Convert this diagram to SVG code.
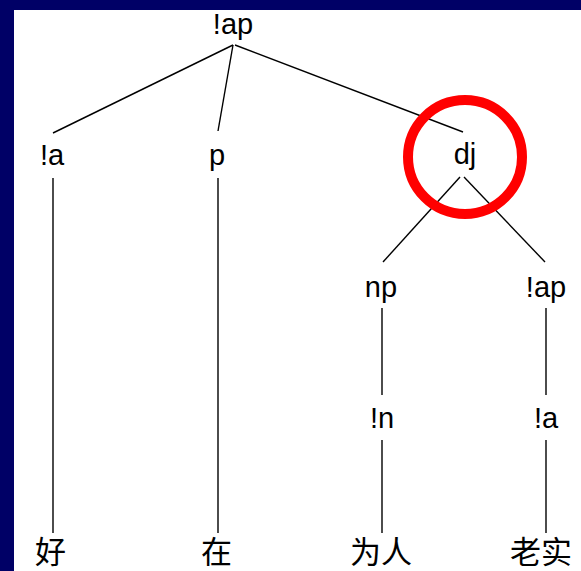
<svg xmlns="http://www.w3.org/2000/svg" width="581" height="571" viewBox="0 0 581 571">
<style>
.lbl{font-family:"Liberation Sans",Arial,sans-serif;font-size:29px;fill:#000;text-anchor:middle}
.word{font-family:"Noto Sans CJK SC",sans-serif;font-size:31px;fill:#000}
.edge{stroke:#000;stroke-width:1.4;fill:none}
</style>
<rect x="0" y="0" width="581" height="571" fill="#000066"/>
<rect x="14" y="10" width="567" height="561" fill="#ffffff"/>
<g id="connectors">
<line class="edge" x1="233" y1="45" x2="53" y2="133"/>
<line class="edge" x1="233" y1="45" x2="218" y2="131"/>
<line class="edge" x1="235" y1="45" x2="463" y2="132"/>
<line class="edge" x1="53" y1="178" x2="53" y2="533"/>
<line class="edge" x1="218" y1="178" x2="218" y2="533"/>
<line class="edge" x1="460" y1="177" x2="383" y2="262"/>
<line class="edge" x1="464" y1="177" x2="545" y2="262"/>
<line class="edge" x1="382" y1="308" x2="382" y2="395"/>
<line class="edge" x1="546" y1="308" x2="546" y2="395"/>
<line class="edge" x1="382" y1="440" x2="382" y2="533"/>
<line class="edge" x1="546" y1="440" x2="546" y2="533"/>
</g>
<g id="n-root"><text class="lbl" x="233" y="34">!ap</text></g>
<g id="n-a1"><text class="lbl" x="52" y="165">!a</text></g>
<g id="n-p"><text class="lbl" x="217" y="165">p</text></g>
<g id="n-dj"><text class="lbl" x="465" y="164">dj</text></g>
<g id="n-np"><text class="lbl" x="381" y="297">np</text></g>
<g id="n-ap2"><text class="lbl" x="546" y="297">!ap</text></g>
<g id="n-n"><text class="lbl" x="382" y="428">!n</text></g>
<g id="n-a2"><text class="lbl" x="546" y="428">!a</text></g>
<g id="w-hao"><text class="word" x="35" y="563">好</text></g>
<g id="w-zai"><text class="word" x="201" y="563">在</text></g>
<g id="w-weiren"><text class="word" x="350" y="563">为人</text></g>
<g id="w-laoshi"><text class="word" x="510" y="563">老实</text></g>
<g id="highlight"><circle cx="465" cy="157" r="57" fill="none" stroke="#ff0000" stroke-width="10"/></g>
</svg>
